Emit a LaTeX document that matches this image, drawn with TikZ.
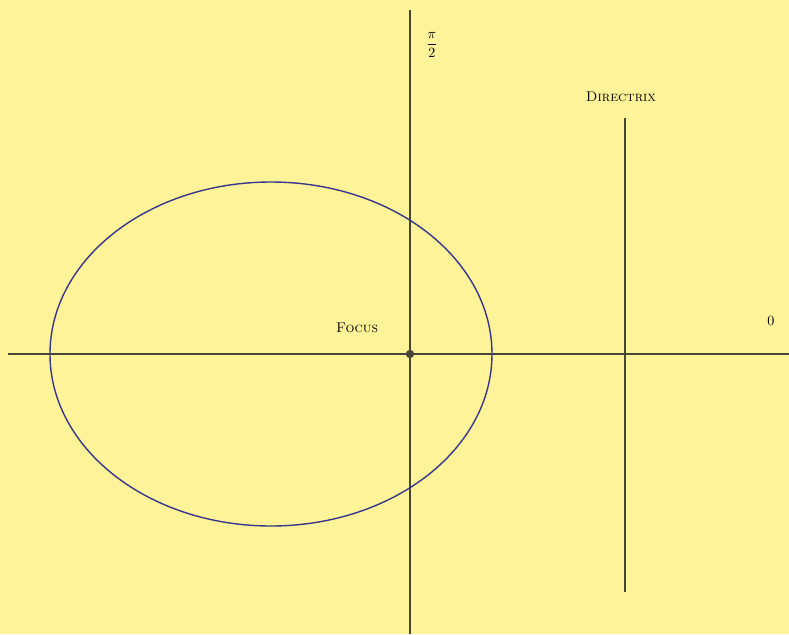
\documentclass[tikz,border=0pt]{standalone}
\usepackage{tikz}
\usetikzlibrary{positioning,calc}
\definecolor{PaperYellow}{RGB}{255,243,153}
\definecolor{AxisGray}{RGB}{70,70,55}
\definecolor{CurveBlue}{RGB}{55,55,140}

\begin{document}
\begin{tikzpicture}[x=0.025cm, y=0.025cm, every node/.style={font=\normalsize, align=center},
  axis/.style={draw=AxisGray, line width=1.2pt},
  curve/.style={draw=CurveBlue, line width=1pt}]
  \fill[PaperYellow] (-410,-280) rectangle (379,354);
  \useasboundingbox (-410,-280) rectangle (379,354);
  % polar axis and the line theta = pi/2
  \coordinate (west) at (-402,0);
  \coordinate (east) at (379,0);
  \coordinate (south) at (0,-280);
  \coordinate (north) at (0,344);
  \draw[axis] (west) -- (east);
  \draw[axis] (south) -- (north);
  % ellipse, focus at the pole
  \coordinate (centre) at (-139,0);
  \draw[curve] (centre) ellipse [x radius=221, y radius=172];
  \fill[AxisGray] (0,0) circle (3pt) coordinate (pole);
  % directrix
  \coordinate (dtop) at (215,236);
  \coordinate (dbot) at (215,-238);
  \draw[axis] (dtop) -- (dbot);
  % labels
  \node (half) at (22,309) {$\displaystyle\frac{\pi}{2}$};
  \node (dlabel) at (211,257) {\scshape Directrix};
  \node (flabel) at (-53,26) {\scshape Focus};
  \node (zero) at (361,33) {$0$};
\end{tikzpicture}
\end{document}
